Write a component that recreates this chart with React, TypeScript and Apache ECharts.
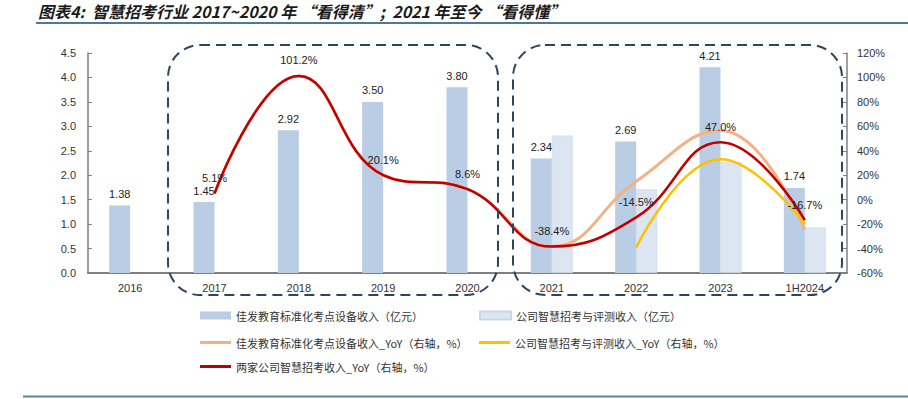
import React, { useEffect, useRef } from "react";
import * as echarts from "echarts";

const categories = ["2016", "2017", "2018", "2019", "2020", "2021", "2022", "2023", "1H2024"];
const jiafaRevenue = [1.38, 1.45, 2.92, 3.5, 3.8, 2.34, 2.69, 4.21, 1.74];
const companyRevenue = [null, null, null, null, null, 2.81, 1.71, 2.27, 0.93];
const jiafaYoY = [null, 5.1, 101.2, 20.1, 8.6, -38.4, 15.0, 56.5, -24.5];
const companyYoY = [null, null, null, null, null, null, -39.1, 33.0, -20.0];
const combinedYoY = [null, 5.1, 101.2, 20.1, 8.6, -38.4, -14.5, 47.0, -16.7];

const names = [
  "佳发教育标准化考点设备收入（亿元）",
  "公司智慧招考与评测收入（亿元）",
  "佳发教育标准化考点设备收入_YoY（右轴，%）",
  "公司智慧招考与评测收入_YoY（右轴，%）",
  "两家公司智慧招考收入_YoY（右轴，%）",
];

const FONT = "'Liberation Sans', Arial, 'Noto Sans CJK SC', sans-serif";
const CJK = "'Noto Sans CJK SC', 'Liberation Sans', sans-serif";

export default function App() {
  const ref = useRef<HTMLDivElement>(null);
  useEffect(() => {
    document.body.style.margin = "0";
    if (!ref.current) return;
    const chart = echarts.init(ref.current, undefined, { renderer: "svg" });
    const legendBase = {
      itemWidth: 31,
      itemGap: 0,
      textStyle: { fontSize: 11, color: "#333", fontFamily: CJK },
      selectedMode: false,
    };
    const legendPos = [
      [195, 305],
      [474, 305],
      [195, 330],
      [474, 330],
      [195, 354],
    ];
    chart.setOption({
      animation: false,
      textStyle: { fontFamily: FONT },
      grid: { left: 88, right: 61, top: 53, bottom: 126, containLabel: false },
      legend: names.map((n, i) => ({
        ...legendBase,
        itemHeight: i < 2 ? 8 : 3,
        icon: "rect",
        data: [n],
        left: legendPos[i][0],
        top: legendPos[i][1] + (i < 2 ? 0 : 2),
      })),
      xAxis: {
        type: "category",
        data: categories,
        boundaryGap: true,
        axisLine: { lineStyle: { color: "#7f7f7f", width: 2 } },
        axisTick: { show: false },
        axisLabel: { color: "#333", fontSize: 11, margin: 9, fontFamily: FONT },
      },
      yAxis: [
        {
          type: "value",
          min: 0,
          max: 4.5,
          interval: 0.5,
          splitLine: { show: false },
          axisLine: { show: true, lineStyle: { color: "#7f7f7f", width: 1.5 } },
          axisTick: { show: true, inside: true, length: 4, lineStyle: { color: "#7f7f7f" } },
          axisLabel: {
            color: "#333",
            fontSize: 11,
            margin: 12,
            fontFamily: FONT,
            formatter: (v: number) => v.toFixed(1),
          },
        },
        {
          type: "value",
          min: -60,
          max: 120,
          interval: 20,
          position: "right",
          splitLine: { show: false },
          axisLine: { show: true, lineStyle: { color: "#7f7f7f", width: 1.5 } },
          axisTick: { show: true, inside: true, length: 4, lineStyle: { color: "#7f7f7f" } },
          axisLabel: {
            color: "#333",
            fontSize: 11,
            margin: 10,
            fontFamily: FONT,
            formatter: (v: number) => `${v}%`,
          },
        },
      ],
      series: [
        {
          name: names[0],
          type: "bar",
          data: jiafaRevenue,
          barWidth: 21,
          barGap: "0%",
          itemStyle: { color: "#b9cde5" },
          label: {
            show: true,
            position: "top",
            distance: 6,
            color: "#222",
            fontSize: 11,
            fontFamily: FONT,
            formatter: (p: any) => Number(p.value).toFixed(2),
          },
        },
        {
          name: names[1],
          type: "bar",
          data: companyRevenue,
          barWidth: 21,
          barGap: "0%",
          itemStyle: { color: "#dce6f2", borderColor: "#c9d6e6", borderWidth: 0.5 },
        },
        {
          name: names[2],
          type: "line",
          yAxisIndex: 1,
          data: jiafaYoY,
          smooth: 0.45,
          symbol: "none",
          lineStyle: { color: "#f4b183", width: 3 },
          itemStyle: { color: "#f4b183" },
        },
        {
          name: names[3],
          type: "line",
          yAxisIndex: 1,
          data: companyYoY,
          smooth: 0.45,
          symbol: "none",
          lineStyle: { color: "#ffc000", width: 2.5 },
          itemStyle: { color: "#ffc000" },
        },
        {
          name: names[4],
          type: "line",
          yAxisIndex: 1,
          data: combinedYoY,
          smooth: 0.45,
          symbol: "circle",
          symbolSize: 0,
          showSymbol: true,
          showAllSymbol: true,
          lineStyle: { color: "#c00000", width: 2.5 },
          itemStyle: { color: "#c00000" },
          label: {
            show: true,
            position: "top",
            distance: 10,
            color: "#222",
            fontSize: 11,
            fontFamily: FONT,
            formatter: (p: any) => `${Number(p.value).toFixed(1)}%`,
          },
          labelLayout: { hideOverlap: false },
        },
      ],
      graphic: [
        {
          type: "text",
          left: 38,
          top: 3,
          style: {
            text: "图表4:  智慧招考行业 2017~2020 年 “看得清”;  2021 年至今 “看得懂”",
            font: `italic bold 16px ${CJK}`,
            fill: "#1a1a1a",
          },
        },
        {
          type: "line",
          shape: { x1: 36, y1: 23, x2: 908, y2: 23 },
          style: { stroke: "#4a7a9a", lineWidth: 2 },
        },
        {
          type: "line",
          shape: { x1: 23, y1: 396.5, x2: 908, y2: 396.5 },
          style: { stroke: "#5a87a0", lineWidth: 2 },
        },
        {
          type: "rect",
          shape: { x: 168, y: 45, width: 330, height: 250, r: 32 },
          style: { fill: "none", stroke: "#2e4460", lineWidth: 2, lineDash: [10, 6] },
          z: 10,
        },
        {
          type: "rect",
          shape: { x: 513, y: 45, width: 329, height: 250, r: 32 },
          style: { fill: "none", stroke: "#2e4460", lineWidth: 2, lineDash: [10, 6] },
          z: 10,
        },
      ],
    });
    return () => chart.dispose();
  }, []);
  return <div ref={ref} style={{ width: 908, height: 399 }} />;
}
